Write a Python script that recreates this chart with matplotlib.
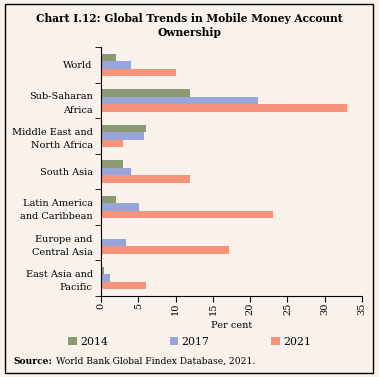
import numpy as np
import matplotlib.pyplot as plt
from matplotlib.patches import Rectangle
import matplotlib.transforms as mtransforms

# Mobile money account ownership by region (per cent)
regions = ["World", "Sub-Saharan\nAfrica", "Middle East and\nNorth Africa", "South Asia",
           "Latin America\nand Caribbean", "Europe and\nCentral Asia", "East Asia and\nPacific"]
y2014 = [2, 12, 6, 2.9, 2, 0.1, 0.4]
y2017 = [4, 21, 5.8, 4, 5.1, 3.3, 1.2]
y2021 = [10, 33, 2.9, 12, 23, 17.2, 6]
years = ["2014", "2017", "2021"]
colors = ["#8c9a74", "#98a5d8", "#f5937b"]
xt = [0, 5, 10, 15, 20, 25, 30, 35]

bg = "#f8f1ec"
plt.rcParams['font.family'] = ['DejaVu Serif']

fig = plt.figure(figsize=(3.79, 3.77), dpi=100, facecolor=bg)
ax = fig.add_axes([101/379, 1-296/377, 261/379, 249/377])
ax.set_facecolor(bg)

n = len(regions)
pos = np.arange(n)[::-1]
h = 0.21
for i, vals in enumerate([y2014, y2017, y2021]):
    ax.barh(pos + (1-i)*h, vals, height=h, color=colors[i], label=years[i])

ax.set_xlim(0, 35)
ax.set_ylim(-0.5, n-0.5)
ax.set_xticks(xt)
ax.set_xticklabels([])
ax.tick_params(axis='x', length=4)
# rotated tick labels
trans = mtransforms.blended_transform_factory(ax.transData, ax.transAxes)
for v in xt:
    ax.text(v, -0.028, str(v), transform=trans, rotation=90, rotation_mode='anchor',
            ha='right', va='center', fontsize=7)
ax.set_yticks(pos)
ax.set_yticklabels(regions, fontsize=7, linespacing=1.6)
ax.tick_params(axis='y', length=0, pad=6)
ax.set_yticks(np.arange(n+1)-0.5, minor=True)
ax.tick_params(axis='y', which='minor', length=4)
for s in ['top', 'right']:
    ax.spines[s].set_visible(False)
ax.text(0.5, -0.12, "Per cent", transform=ax.transAxes, ha='center', va='center', fontsize=7)

fig.legend(loc='center', bbox_to_anchor=(0.5, 1-342/377), ncol=3, frameon=False,
           fontsize=7.8, handlelength=0.8, handleheight=0.8, columnspacing=5.7, handletextpad=0.3)

fig.text(0.5, 1-18/377, "Chart I.12: Global Trends in Mobile Money Account", ha='center', va='center',
         fontsize=7.7, fontweight='bold')
fig.text(0.5, 1-33/377, "Ownership", ha='center', va='center', fontsize=7.7, fontweight='bold')
src = fig.text(13/379, 1-361/377, "Source:", fontsize=6.6, fontweight='bold', va='center')
ax.annotate("World Bank Global Findex Database, 2021.", xy=(1, 0.5), xycoords=src,
            xytext=(3, 0), textcoords='offset points', fontsize=6.6, va='center', ha='left',
            annotation_clip=False)

fig.patches.append(Rectangle((5/379, 4/377), 368/379, 369/377, transform=fig.transFigure,
                             fill=False, edgecolor='black', linewidth=1))

plt.savefig("out.png", dpi=100, facecolor=bg)
